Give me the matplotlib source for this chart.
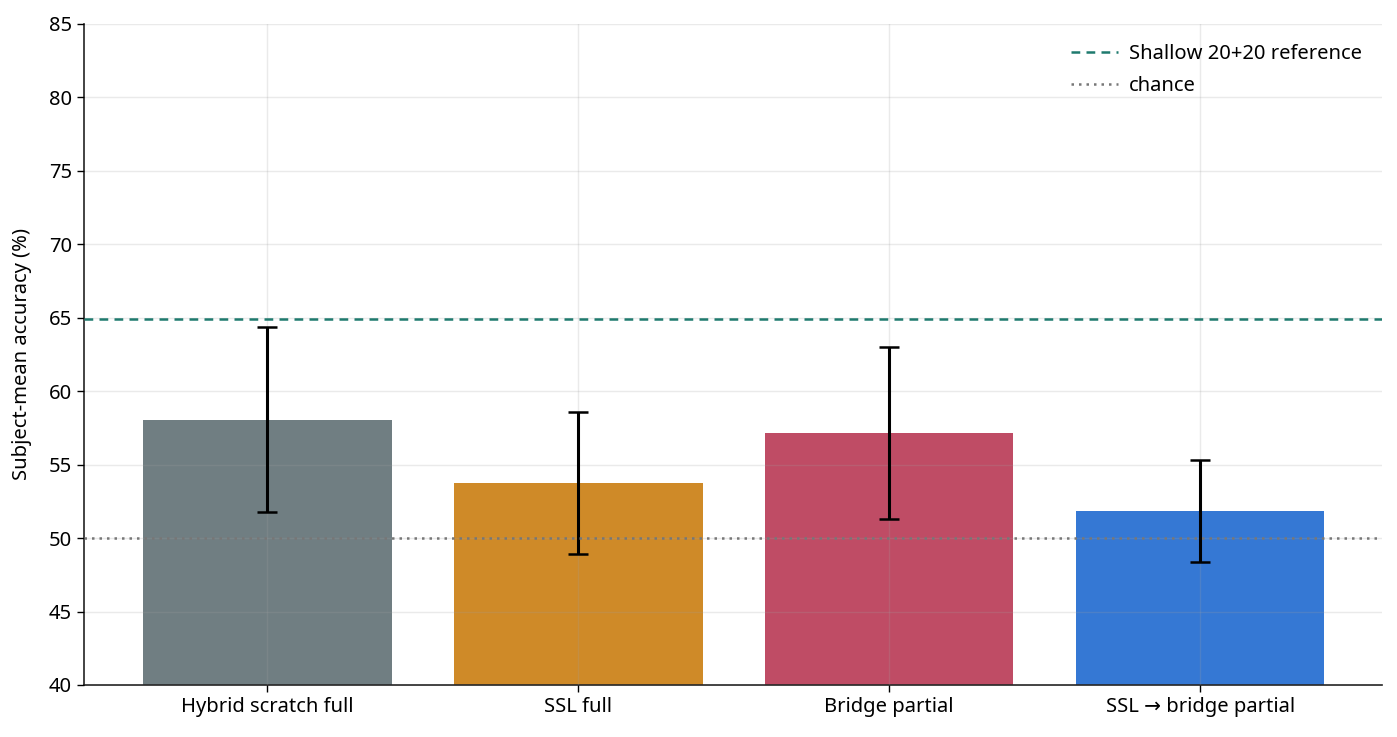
import matplotlib
matplotlib.use("Agg")
import matplotlib.pyplot as plt

plt.rcParams['font.family'] = ['Noto Sans', 'DejaVu Sans']

categories = ["Hybrid scratch full", "SSL full", "Bridge partial", "SSL \u2192 bridge partial"]
means = [58.05, 53.75, 57.15, 51.85]
errors = [6.3, 4.83, 5.88, 3.5]
colors = ["#707e82", "#cf8a28", "#bf4c65", "#3578d4"]
shallow_ref = 64.95
chance = 50.0

fig = plt.figure(figsize=(13.97, 7.37), dpi=100)
ax = fig.add_axes([84/1397, 1-685/737, (1382-84)/1397, (685-24)/737])

x = list(range(len(categories)))
ax.bar(x, means, width=0.8, color=colors, zorder=1)
ax.errorbar(x, means, yerr=errors, fmt='none', ecolor='black', elinewidth=2.2, capsize=7, capthick=1.8, zorder=3)
ax.axhline(shallow_ref, color="#1f7a6e", linestyle=(0, (3.5, 2.5)), linewidth=1.8, label="Shallow 20+20 reference", zorder=4)
ax.axhline(chance, color="#777777", linestyle=(0, (1, 2)), linewidth=1.8, label="chance", zorder=4)

ax.set_ylim(40, 85)
ax.set_xlim(-0.589, 3.585)
ax.set_xticks(x)
ax.set_xticklabels(categories, fontsize=14.5)
ax.set_yticks(range(40, 86, 5))
ax.tick_params(axis='y', labelsize=14.5)
ax.tick_params(axis='both', length=5, width=1)
ax.set_ylabel("Subject-mean accuracy (%)", fontsize=14.5, labelpad=12)
ax.grid(True, color="#a0a0a0", alpha=0.22, linewidth=1, zorder=2)
ax.set_axisbelow(False)
for s in ['top', 'right']:
    ax.spines[s].set_visible(False)
for s in ['left', 'bottom']:
    ax.spines[s].set_color("#222222")
    ax.spines[s].set_linewidth(1.2)

leg = ax.legend(loc='upper right', frameon=False, fontsize=14.5, labelspacing=0.6,
                handlelength=2.3, handletextpad=0.55, borderaxespad=0.6)

fig.savefig("out.png", dpi=100)
